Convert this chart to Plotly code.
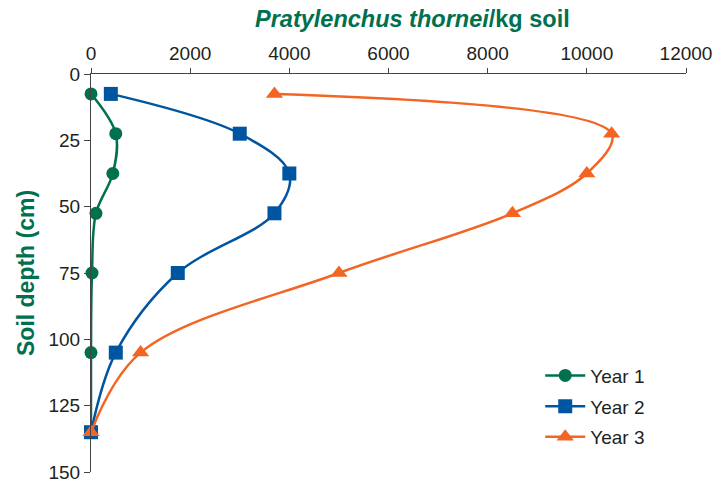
import plotly.graph_objects as go

depths = [7.5, 22.5, 37.5, 52.5, 75, 105, 135]
year1 = [0, 500, 440, 100, 20, 0, 0]
year2 = [400, 3000, 4000, 3700, 1750, 500, 0]
year3 = [3700, 10500, 10000, 8500, 5000, 1000, 0]
x_ticks = [0, 2000, 4000, 6000, 8000, 10000, 12000]
y_ticks = [0, 25, 50, 75, 100, 125, 150]

GREEN = "#00704F"
BLUE = "#0055A0"
ORANGE = "#F26522"
TXT = "#231F20"
AX = "#444444"
FONT = "Liberation Sans"

fig = go.Figure()
series = [("Year 1", year1, GREEN, "circle", 13),
          ("Year 2", year2, BLUE, "square", 14),
          ("Year 3", year3, ORANGE, "triangle-up", 15)]
for name, vals, col, sym, sz in series:
    fig.add_trace(go.Scatter(
        x=vals, y=depths, name=name, mode="lines+markers",
        legendgroup=name,
        line=dict(color=col, width=2.5, shape="spline", smoothing=1),
        marker=dict(color=col, symbol=sym, size=sz),
        cliponaxis=False,
    ))

fig.update_layout(
    width=716, height=484,
    margin=dict(l=91, r=30, t=74, b=12),
    paper_bgcolor="white", plot_bgcolor="white",
    font=dict(family=FONT, size=19, color=TXT),
    showlegend=True,
    legend=dict(x=0.755, y=0.29, xanchor="left", yanchor="top",
                bgcolor="rgba(0,0,0,0)", font=dict(size=19, color=TXT),
                itemwidth=40, tracegroupgap=3),
    xaxis=dict(range=[0, 12000], side="top", tickvals=x_ticks,
               ticktext=[str(v) for v in x_ticks], automargin=False,
               ticklabeloverflow="allow",
               showgrid=False, zeroline=False, showline=True,
               linecolor=AX, linewidth=1, ticks="outside",
               ticklen=5, tickcolor=AX, tickfont=dict(size=19, color=TXT)),
    yaxis=dict(range=[150, 0], tickvals=y_ticks,
               ticktext=[str(v) for v in y_ticks], automargin=False,
               ticklabeloverflow="allow",
               showgrid=False, zeroline=False, showline=True,
               linecolor=AX, linewidth=1, ticks="outside",
               ticklen=6, tickcolor=AX, tickfont=dict(size=19, color=TXT)),
    annotations=[
        dict(text="<b><i>Pratylenchus thornei</i>/kg soil</b>",
             xref="paper", yref="paper", x=0.541, y=1, yshift=55,
             xanchor="center", yanchor="middle", showarrow=False,
             font=dict(size=23.5, color=GREEN, family=FONT)),
        dict(text="<b>Soil depth (cm)</b>",
             xref="paper", yref="paper", x=0, xshift=-65, y=0.5,
             xanchor="center", yanchor="middle", showarrow=False,
             textangle=-90, font=dict(size=23, color=GREEN, family=FONT)),
    ],
)

fig.write_html(
    "out.html",
    config={"displayModeBar": False},
    post_script="document.body.style.margin='0';document.body.style.padding='0';",
)
